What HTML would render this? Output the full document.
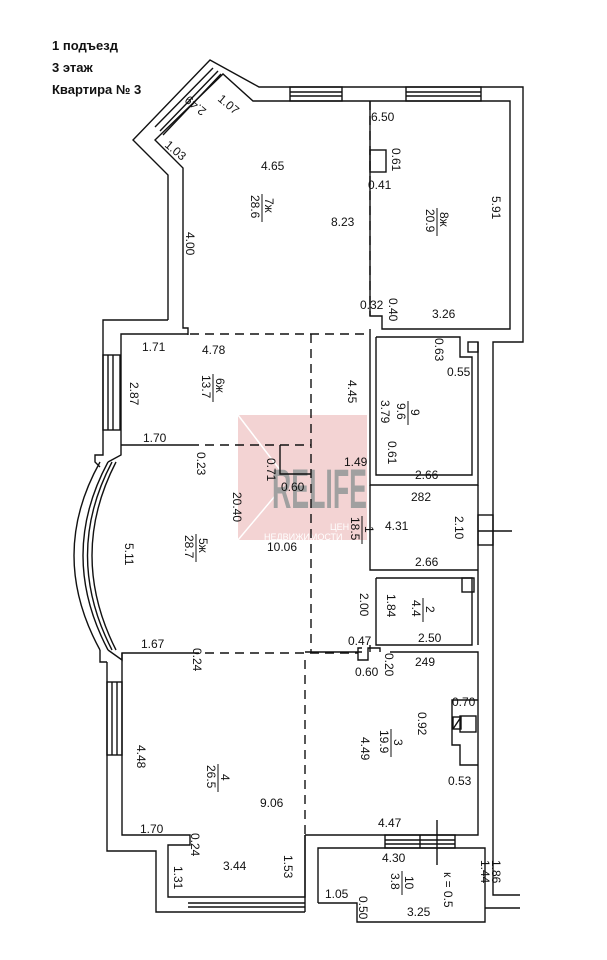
<!DOCTYPE html>
<html><head><meta charset="utf-8"><style>
html,body{margin:0;padding:0;background:#fff;}
svg{display:block}
text{font-family:"Liberation Sans",sans-serif;font-size:12px;fill:#111}
.t{font-weight:bold;font-size:13px}
</style></head><body>
<svg width="607" height="960" viewBox="0 0 607 960" xmlns="http://www.w3.org/2000/svg">
<rect width="607" height="960" fill="#fff"/>
<text class="t" x="52" y="50">1 подъезд</text>
<text class="t" x="52" y="72">3 этаж</text>
<text class="t" x="52" y="94">Квартира № 3</text>

<!-- watermark -->
<rect x="238" y="415" width="129" height="125" fill="#f3d3d3"/>
<line x1="238" y1="415" x2="280" y2="470" stroke="#fff" stroke-width="1.5"/>
<line x1="238" y1="540" x2="280" y2="490" stroke="#fff" stroke-width="1.5"/>
<text x="272" y="508" textLength="95" lengthAdjust="spacingAndGlyphs" style="font-size:56px;font-weight:bold;fill:#a0a0a0">RELIFE</text>
<text x="330" y="530" style="font-size:9px;fill:#fff">ЦЕН</text>
<text x="264" y="540" style="font-size:9px;fill:#fff">НЕДВИЖИМОСТИ</text>

<g fill="none" stroke="#111" stroke-width="1.4">
<polyline points="168,320 168,175 133,140 210,60 259,87 523,87 523,342 493,342 493,895 520,895"/>
<polyline points="520,908 485,908"/>
<polyline points="188,335 188,328 183,328 183,168 155,140 223,74 253,101 510,101 510,329 382,329 382,316 370,316 370,101"/>
<rect x="290" y="87" width="52" height="14"/><line x1="290" y1="92" x2="342" y2="92"/><line x1="290" y1="96" x2="342" y2="96"/>
<rect x="406" y="87" width="75" height="14"/><line x1="406" y1="92" x2="481" y2="92"/><line x1="406" y1="96" x2="481" y2="96"/>
<line x1="155" y1="127" x2="213" y2="68"/><line x1="160" y1="131" x2="218" y2="71"/><line x1="163" y1="135" x2="221" y2="74"/>
<rect x="370" y="150" width="16" height="22"/>
<polyline points="168,320 103,320 103,455 95,455 95,462 100,467"/>
<polyline points="121,445 121,334 188,334"/>
<rect x="103" y="355" width="17" height="75"/><line x1="108" y1="355" x2="108" y2="430"/><line x1="113" y1="355" x2="113" y2="430"/>
<line x1="121" y1="445" x2="190" y2="445"/>
<path d="M100,462 Q48,555 100,650"/>
<path d="M108,462 Q58,555 108,650"/>
<path d="M112,462 Q63,555 112,650"/>
<path d="M116,462 Q68,555 116,650"/>
<polyline points="121,445 121,455 108,462"/>
<polyline points="108,650 122,660 122,653 190,653"/>
<polyline points="100,650 100,662 107,662"/>
<polyline points="107,662 107,851 156,851 156,912 305,912"/>
<polyline points="122,653 122,835 190,835 190,845 168,845 168,897 305,897 305,835"/>
<rect x="107" y="682" width="15" height="73"/><line x1="112" y1="682" x2="112" y2="755"/><line x1="117" y1="682" x2="117" y2="755"/>
<line x1="188" y1="903" x2="305" y2="903"/><line x1="188" y1="907" x2="305" y2="907"/>
<line x1="305" y1="835" x2="305" y2="912"/>
<polyline points="305,835 478,835 478,652 390,652"/>
<polyline points="362,652 305,652"/>
<polyline points="362,648 358,648 358,660 368,660 368,648 380,648 380,652"/>
<polyline points="478,700 452,700 452,745 460,745 460,765 478,765"/>
<rect x="460" y="716" width="16" height="16"/>
<rect x="453" y="717" width="8" height="12"/><line x1="453" y1="729" x2="461" y2="717"/>
<rect x="385" y="835" width="70" height="13"/><line x1="385" y1="840" x2="455" y2="840"/><line x1="385" y1="844" x2="455" y2="844"/><line x1="420" y1="835" x2="420" y2="848"/>
<line x1="437" y1="820" x2="437" y2="865"/>
<polyline points="318,903 318,848 485,848 485,922 357,922 357,903 318,903"/>
<polyline points="370,329 370,485 478,485 478,342"/>
<polyline points="376,337 376,475 472,475 472,357 460,357 460,337 376,337"/>
<rect x="468" y="342" width="10" height="10"/>
<polyline points="370,485 370,570 478,570"/>
<polyline points="478,485 478,645"/>
<polyline points="376,578 376,645 472,645 472,578 376,578"/>
<rect x="462" y="578" width="12" height="14"/>
<rect x="478" y="515" width="15" height="30"/>
<line x1="478" y1="531" x2="512" y2="531"/>
<line x1="370" y1="645" x2="370" y2="652"/>
</g>
<g fill="none" stroke="#111" stroke-width="1.4" stroke-dasharray="9,6">
<line x1="190" y1="334" x2="370" y2="334"/>
<line x1="190" y1="445" x2="311" y2="445"/>
<line x1="311" y1="334" x2="311" y2="652"/>
<line x1="190" y1="653" x2="358" y2="653"/>
<line x1="305" y1="660" x2="305" y2="835"/>
<line x1="370" y1="101" x2="370" y2="316"/>
</g>
<polyline points="280,445 280,474 311,474" fill="none" stroke="#111" stroke-width="1.4"/>

<g>
<text transform="translate(217,100) rotate(40)">1.07</text>
<text transform="translate(207,110) rotate(220)">2.49</text>
<text transform="translate(164,146) rotate(40)">1.03</text>
<text x="261" y="170">4.65</text>
<text x="331" y="226">8.23</text>
<text transform="translate(186,232) rotate(90)">4.00</text>
<text x="371" y="121">6.50</text>
<text transform="translate(392,148) rotate(90)">0.61</text>
<text x="368" y="189">0.41</text>
<text transform="translate(492,196) rotate(90)">5.91</text>
<text x="360" y="309">0.32</text>
<text transform="translate(389,298) rotate(90)">0.40</text>
<text x="432" y="318">3.26</text>
<text x="142" y="351">1.71</text>
<text x="202" y="354">4.78</text>
<text transform="translate(130,382) rotate(90)">2.87</text>
<text transform="translate(348,380) rotate(90)">4.45</text>
<text transform="translate(435,338) rotate(90)">0.63</text>
<text x="447" y="376">0.55</text>
<text transform="translate(381,400) rotate(90)">3.79</text>
<text transform="translate(388,441) rotate(90)">0.61</text>
<text x="415" y="479">2.66</text>
<text x="143" y="442">1.70</text>
<text transform="translate(197,452) rotate(90)">0.23</text>
<text transform="translate(267,458) rotate(90)">0.71</text>
<text x="344" y="466">1.49</text>
<text x="281" y="491">0.60</text>
<text transform="translate(233,492) rotate(90)">20.40</text>
<text x="411" y="501">282</text>
<text x="385" y="530">4.31</text>
<text transform="translate(455,516) rotate(90)">2.10</text>
<text transform="translate(125,543) rotate(90)">5.11</text>
<text x="267" y="551">10.06</text>
<text x="415" y="566">2.66</text>
<text transform="translate(360,593) rotate(90)">2.00</text>
<text transform="translate(387,594) rotate(90)">1.84</text>
<text x="418" y="642">2.50</text>
<text x="348" y="645">0.47</text>
<text x="141" y="648">1.67</text>
<text transform="translate(193,648) rotate(90)">0.24</text>
<text x="355" y="676">0.60</text>
<text transform="translate(385,653) rotate(90)">0.20</text>
<text x="415" y="666">249</text>
<text x="452" y="706">0.70</text>
<text transform="translate(418,712) rotate(90)">0.92</text>
<text transform="translate(361,737) rotate(90)">4.49</text>
<text transform="translate(137,745) rotate(90)">4.48</text>
<text x="448" y="785">0.53</text>
<text x="260" y="807">9.06</text>
<text x="140" y="833">1.70</text>
<text transform="translate(191,833) rotate(90)">0.24</text>
<text x="378" y="827">4.47</text>
<text x="382" y="862">4.30</text>
<text transform="translate(174,866) rotate(90)">1.31</text>
<text x="223" y="870">3.44</text>
<text transform="translate(284,855) rotate(90)">1.53</text>
<text x="325" y="898">1.05</text>
<text transform="translate(359,896) rotate(90)">0.50</text>
<text x="407" y="916">3.25</text>
<text transform="translate(444,872) rotate(90)">к = 0.5</text>
<text transform="translate(481,860) rotate(90)">1.44</text>
<text transform="translate(492,860) rotate(90)">1.86</text>
</g>
<g font-size="12">
<g transform="translate(262,208) rotate(90)"><text x="-10" y="-3">7ж</text><line x1="-14" y1="0" x2="14" y2="0" stroke="#111"/><text x="-13" y="11">28.6</text></g>
<g transform="translate(437,222) rotate(90)"><text x="-10" y="-3">8ж</text><line x1="-14" y1="0" x2="14" y2="0" stroke="#111"/><text x="-13" y="11">20.9</text></g>
<g transform="translate(213,388) rotate(90)"><text x="-10" y="-3">6ж</text><line x1="-14" y1="0" x2="14" y2="0" stroke="#111"/><text x="-13" y="11">13.7</text></g>
<g transform="translate(408,413) rotate(90)"><text x="-4" y="-3">9</text><line x1="-12" y1="0" x2="12" y2="0" stroke="#111"/><text x="-10" y="11">9.6</text></g>
<g transform="translate(362,530) rotate(90)"><text x="-4" y="-3">1</text><line x1="-14" y1="0" x2="14" y2="0" stroke="#111"/><text x="-13" y="11">18.5</text></g>
<g transform="translate(196,548) rotate(90)"><text x="-10" y="-3">5ж</text><line x1="-14" y1="0" x2="14" y2="0" stroke="#111"/><text x="-13" y="11">28.7</text></g>
<g transform="translate(423,610) rotate(90)"><text x="-4" y="-3">2</text><line x1="-12" y1="0" x2="12" y2="0" stroke="#111"/><text x="-10" y="11">4.4</text></g>
<g transform="translate(391,743) rotate(90)"><text x="-4" y="-3">3</text><line x1="-14" y1="0" x2="14" y2="0" stroke="#111"/><text x="-13" y="11">19.9</text></g>
<g transform="translate(218,778) rotate(90)"><text x="-4" y="-3">4</text><line x1="-14" y1="0" x2="14" y2="0" stroke="#111"/><text x="-13" y="11">26.5</text></g>
<g transform="translate(402,883) rotate(90)"><text x="-7" y="-3">10</text><line x1="-12" y1="0" x2="12" y2="0" stroke="#111"/><text x="-10" y="11">3.8</text></g>
</g>
</svg>
</body></html>
